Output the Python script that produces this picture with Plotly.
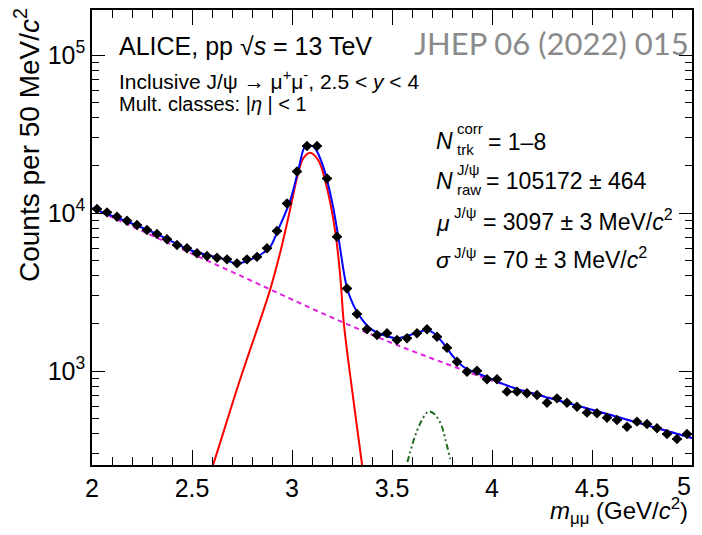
import plotly.graph_objects as go

# ---------------- data ----------------
mass = [round(2.025 + 0.05 * i, 3) for i in range(60)]  # 50 MeV bin centres
counts = [10600, 10100, 9480, 8940, 8400, 7800, 7360, 6820, 6270, 5980,
          5560, 5340, 5210, 5090, 4800, 5090, 5280, 5980, 7690, 11490,
          18300, 26550, 26550, 16540, 7080, 3330, 2296, 1836, 1690, 1733,
          1571, 1611, 1733, 1836, 1649, 1403, 1145, 990, 1004, 886,
          886, 740, 740, 723, 705, 629, 671, 629, 594, 545,
          540, 506, 490, 444, 478, 462, 434, 399, 371, 399]
bin_half_width = 0.025

total_m = [2.0, 2.155, 2.325, 2.49, 2.655, 2.725, 2.79, 2.855, 2.89, 2.93,
           2.99, 3.0315, 3.065, 3.09, 3.115, 3.1565, 3.1985, 3.2315, 3.2735, 3.3065,
           3.34, 3.39, 3.4565, 3.5235, 3.59, 3.64, 3.6735, 3.7065, 3.7565, 3.8065,
           3.8565, 3.9065, 3.99, 4.09, 4.5, 5.0]
total_v = [10670, 9030, 7360, 5830, 5120, 4790, 5050, 5580, 6090, 7800,
           11900, 18700, 26300, 26900, 25700, 19600, 12080, 7080, 3420, 2620,
           2210, 1862, 1691, 1611, 1691, 1774, 1817, 1746, 1496, 1231,
           1064, 990, 899, 796, 569, 377]

bkg_m = [2.0, 2.35, 2.7235, 3.19, 3.5235, 3.8565, 4.04, 4.5, 5.0]
bkg_v = [10760, 6740, 4110, 2207, 1463, 1013, 835, 569, 377]

jpsi_m = [2.59, 2.605, 2.74, 2.89, 2.94, 2.99, 3.0265, 3.0565, 3.09, 3.1315,
          3.1735, 3.215, 3.24, 3.2595, 3.3015, 3.344, 3.355]
jpsi_v = [225, 254, 880, 3250, 5560, 10450, 16980, 22200, 24100, 21600,
          14660, 7800, 4150, 1985, 743, 292, 230]

psi2s_m = [3.577, 3.6225, 3.665, 3.685, 3.715, 3.745, 3.766, 3.791]
psi2s_v = [265, 411, 527, 555, 530, 460, 373, 277]

y_tick_vals = [1e3, 1e4, 1e5]
y_tick_text = ["10<sup>3</sup>", "10<sup>4</sup>", "10<sup>5</sup>"]
x_tick_vals = [2, 2.5, 3, 3.5, 4, 4.5]
x_tick_text = ["2", "2.5", "3", "3.5", "4", "4.5"]
x_last_tick = 5  # drawn as a separate label so it is not clipped at the window edge

# ---------------- layout geometry ----------------
# the page body has an 8 px margin, so the figure is drawn 8 px in from the window corner
OFF = 8
WIN_W, WIN_H = 702, 535
W, H = WIN_W - OFF, WIN_H - 2 * OFF
FRAME_L, FRAME_R, FRAME_T, FRAME_B = 92, 692, 10, 465  # window pixels
L, T = FRAME_L - OFF, FRAME_T - OFF
R, B = W - (FRAME_R - OFF), H - (FRAME_B - OFF)
FONT = "Liberation Sans, Arial, Helvetica, sans-serif"


def fx(x):
    return (x - FRAME_L) / (FRAME_R - FRAME_L)


def fy(y):
    return (FRAME_B - y) / (FRAME_B - FRAME_T)


fig = go.Figure()

fig.add_trace(go.Scatter(x=bkg_m, y=bkg_v, mode="lines", line_shape="spline",
                         line=dict(color="#e020e0", width=2, dash="5px,4px"),
                         hoverinfo="skip", showlegend=False))
fig.add_trace(go.Scatter(x=jpsi_m, y=jpsi_v, mode="lines", line_shape="spline",
                         line=dict(color="#ff0000", width=2),
                         hoverinfo="skip", showlegend=False))
fig.add_trace(go.Scatter(x=psi2s_m, y=psi2s_v, mode="lines", line_shape="spline",
                         line=dict(color="#1f6b1f", width=2,
                                   dash="6px,3px,2px,3px,2px,3px"),
                         hoverinfo="skip", showlegend=False))
fig.add_trace(go.Scatter(x=total_m, y=total_v, mode="lines", line_shape="spline",
                         line=dict(color="#0000ff", width=2),
                         hoverinfo="skip", showlegend=False))
fig.add_trace(go.Scatter(x=mass, y=counts, mode="markers",
                         marker=dict(symbol="diamond", size=8, color="black"),
                         error_x=dict(type="constant", value=bin_half_width,
                                      thickness=1.5, width=0, color="black"),
                         showlegend=False))

anns = []


def ann(text, x, y, size, xanchor="left", color="black", family=FONT, angle=0):
    anns.append(dict(text=text, x=fx(x), y=fy(y), xref="paper", yref="paper",
                     xanchor=xanchor, yanchor="middle", showarrow=False,
                     textangle=angle,
                     font=dict(size=size, color=color, family=family)))


ann("ALICE, pp √<i>s</i> = 13 TeV", 117, 46, 25)
ann("JHEP 06 (2022) 015", 691, 43, 31, xanchor="right", color="#8a8a8a",
    family="Lato, Open Sans, sans-serif")
ann("Inclusive J/ψ → μ<sup>+</sup>μ<sup>-</sup>, 2.5 < <i>y</i> < 4", 117, 80, 21)
ann("Mult. classes: |<i>η</i> | < 1", 117, 104, 20)

ann("<i>N</i>", 434, 141, 23)
ann("corr", 455, 129, 15)
ann("trk", 455, 149, 15)
ann("= 1–8", 486, 142, 23)

ann("<i>N</i>", 434, 181, 23)
ann("J/ψ", 455, 169, 15)
ann("raw", 455, 189, 15)
ann("= 105172 ± 464", 484, 181, 23)

ann("<i>μ</i>", 434, 223, 23)
ann("J/ψ", 452, 212, 15)
ann("= 3097 ± 3 MeV/<i>c</i><sup>2</sup>", 481, 220, 23)

ann("<i>σ</i>", 434, 260, 23)
ann("J/ψ", 452, 252, 15)
ann("= 70 ± 3 MeV/<i>c</i><sup>2</sup>", 481, 258, 23)

ann("Counts per 50 MeV/<i>c</i><sup>2</sup>", 27, 145, 28, xanchor="center", angle=-90)
ann("<i>m</i><sub>μμ</sub> (GeV/<i>c</i><sup>2</sup>)", 690, 511, 24, xanchor="right")

# last x tick label, kept inside the visible window
anns.append(dict(text=str(x_last_tick), x=fx(693), y=fy(486), xref="paper", yref="paper",
                 xanchor="right", yanchor="middle", showarrow=False,
                 font=dict(size=25, color="black", family=FONT)))

fig.update_layout(
    width=W, height=H, margin=dict(l=L, r=R, t=T, b=B, autoexpand=False),
    plot_bgcolor="white", paper_bgcolor="white",
    font=dict(family=FONT, color="black"),
    annotations=anns,
    xaxis=dict(range=[2, 5], tickmode="array", tickvals=x_tick_vals + [x_last_tick],
               ticktext=x_tick_text + [""],
               ticks="inside", ticklen=15, tickwidth=1.3, tickcolor="black",
               showline=True, linecolor="black", linewidth=1.5, mirror="ticks",
               showgrid=False, zeroline=False, tickfont=dict(size=25),
               automargin=False,
               minor=dict(ticks="inside", ticklen=8, tickwidth=1.2, tickcolor="black",
                          dtick=0.1, tick0=2, showgrid=False)),
    yaxis=dict(type="log", range=[2.405, 5.285], tickmode="array",
               tickvals=y_tick_vals, ticktext=y_tick_text,
               ticks="inside", ticklen=13, tickwidth=1.3, tickcolor="black",
               showline=True, linecolor="black", linewidth=1.5, mirror="ticks",
               showgrid=False, zeroline=False, tickfont=dict(size=25),
               automargin=False,
               minor=dict(ticks="inside", ticklen=7, tickwidth=1.2, tickcolor="black",
                          tickmode="array",
                          tickvals=[k * 10 ** d for d in (2, 3, 4, 5) for k in range(2, 10)],
                          showgrid=False)),
)

fig.write_html("out.html")
